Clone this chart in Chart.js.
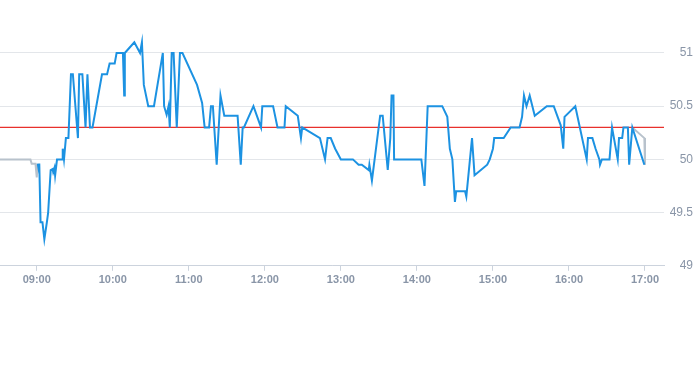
<!DOCTYPE html>
<html>
<head>
<meta charset="utf-8">
<script src="https://cdn.jsdelivr.net/npm/chart.js@4/dist/chart.umd.min.js"></script>
<style>
  html, body { margin: 0; padding: 0; background: #fff; }
  #wrap { width: 693px; height: 365px; }
</style>
</head>
<body>
<div id="wrap"><canvas id="priceChart"></canvas></div>
<script>
// Intraday price (blue)
const priceTimes = [
  "09:00:47", "09:01:30", "09:02:00", "09:03:00", "09:04:30", "09:06:00", "09:08:00", "09:09:00",
  "09:11:00", "09:12:30", "09:13:00", "09:14:00", "09:14:30", "09:16:00", "09:20:00", "09:20:30",
  "09:21:30", "09:23:00", "09:25:00", "09:27:00", "09:28:30", "09:32:30", "09:33:30", "09:36:00",
  "09:38:30", "09:40:00", "09:42:00", "09:44:00", "09:51:30", "09:55:30", "09:57:30", "10:01:30",
  "10:03:00", "10:08:00", "10:09:00", "10:09:30", "10:17:00", "10:21:30", "10:23:00", "10:24:30",
  "10:28:00", "10:32:30", "10:39:30", "10:40:30", "10:42:30", "10:44:00", "10:45:00", "10:46:30",
  "10:48:00", "10:50:30", "10:53:00", "10:55:00", "11:06:30", "11:10:30", "11:12:30", "11:16:00",
  "11:17:30", "11:19:00", "11:22:00", "11:25:00", "11:28:00", "11:38:30", "11:41:00", "11:42:30",
  "11:43:30", "11:51:00", "11:57:00", "11:58:00", "12:06:30", "12:10:00", "12:15:30", "12:16:30",
  "12:26:00", "12:28:30", "12:29:30", "12:43:30", "12:47:30", "12:49:30", "12:52:00", "12:55:30",
  "13:00:00", "13:09:30", "13:14:00", "13:16:30", "13:22:00", "13:22:30", "13:24:30", "13:31:00",
  "13:33:00", "13:37:00", "13:39:00", "13:39:30", "13:40:00", "13:41:30", "13:42:00", "14:03:30",
  "14:06:00", "14:08:30", "14:20:00", "14:24:00", "14:26:00", "14:28:00", "14:30:00", "14:31:00",
  "14:38:00", "14:39:00", "14:43:30", "14:45:30", "14:55:30", "14:57:30", "15:00:00", "15:01:00",
  "15:08:30", "15:14:00", "15:21:00", "15:23:00", "15:24:30", "15:26:30", "15:29:00", "15:33:00",
  "15:42:30", "15:48:00", "15:53:30", "15:55:30", "15:56:30", "16:05:00", "16:14:00", "16:15:00",
  "16:18:30", "16:21:00", "16:24:00", "16:24:30", "16:26:00", "16:32:00", "16:34:00", "16:38:30",
  "16:39:30", "16:42:00", "16:43:00", "16:46:30", "16:47:30", "16:50:00", "16:59:30"
];
const priceValues = [
  49.96, 49.91, 49.96, 49.41, 49.41, 49.25, 49.41, 49.5,
  49.9, 49.91, 49.88, 49.92, 49.85, 50.0, 50.0, 50.1,
  50.0, 50.2, 50.2, 50.8, 50.8, 50.2, 50.8, 50.8,
  50.3, 50.8, 50.3, 50.3, 50.8, 50.8, 50.9, 50.9,
  51.0, 51.0, 50.6, 51.0, 51.1, 51.0, 51.1, 50.7,
  50.5, 50.5, 51.0, 50.5, 50.42, 50.5, 50.3, 51.0,
  51.0, 50.3, 51.0, 51.0, 50.7, 50.53, 50.3, 50.3,
  50.5, 50.5, 49.95, 50.6, 50.41, 50.41, 49.95, 50.3,
  50.3, 50.5, 50.3, 50.5, 50.5, 50.3, 50.3, 50.5,
  50.41, 50.2, 50.3, 50.2, 50.0, 50.2, 50.2, 50.1,
  50.0, 50.0, 49.95, 49.95, 49.9, 49.95, 49.8, 50.41,
  50.41, 49.9, 50.2, 50.2, 50.6, 50.6, 50.0, 50.0,
  49.75, 50.5, 50.5, 50.4, 50.1, 50.0, 49.6, 49.7,
  49.7, 49.65, 50.2, 49.85, 49.95, 50.0, 50.1, 50.2,
  50.2, 50.3, 50.3, 50.4, 50.6, 50.5, 50.6, 50.41,
  50.5, 50.5, 50.32, 50.1, 50.4, 50.5, 50.0, 50.2,
  50.2, 50.1, 50.0, 49.95, 50.0, 50.0, 50.3, 50.0,
  50.2, 50.2, 50.3, 50.3, 49.95, 50.3, 49.95
];

// Grey series (pre-open and closing auction), null breaks the line
const auctionTimes = ["08:31:00", "08:55:00", "08:56:00", "08:59:00", "09:00:00", "09:00:47", "12:00:00", "16:50:00", "16:59:30", "17:00:00"];
const auctionValues = [50.0, 50.0, 49.96, 49.96, 49.83, 49.96, null, 50.3, 50.2, 49.95];

// Reference level (red)
const refLevel = 50.3;

// Axes
const xRange = ["08:31:00", "17:15:00"];
const hourTicks = ["09:00", "10:00", "11:00", "12:00", "13:00", "14:00", "15:00", "16:00", "17:00"];
const yTicks = [49, 49.5, 50, 50.5, 51];
const yMax = 51.43;

function toMin(s) {
  const p = s.split(":").map(Number);
  return p[0] * 60 + p[1] + (p[2] || 0) / 60;
}
function fmt(m) {
  const h = Math.floor(m / 60), mm = Math.round(m % 60);
  return String(h).padStart(2, "0") + ":" + String(mm).padStart(2, "0");
}
const pts = (times, vals) => times.map((t, i) => ({ x: toMin(t), y: vals[i] }));

const xMin = toMin(xRange[0]);
const xMax = toMin(xRange[1]);

const labelColor = "#8995a7";
const font = "'Liberation Sans', Arial, Helvetica, sans-serif";

new Chart(document.getElementById("priceChart"), {
  type: "line",
  data: {
    datasets: [
      {
        label: "Price",
        data: pts(priceTimes, priceValues),
        borderColor: "#1c92e2",
        borderWidth: 2,
        pointRadius: 0,
        tension: 0,
      },
      {
        label: "Reference",
        data: [{ x: xMin, y: refLevel }, { x: xMax, y: refLevel }],
        borderColor: "#e8312c",
        borderWidth: 1.2,
        pointRadius: 0,
      },
      {
        label: "Auction",
        data: pts(auctionTimes, auctionValues),
        borderColor: "#b8c2cc",
        borderWidth: 2,
        pointRadius: 0,
        spanGaps: false,
      },
    ],
  },
  options: {
    responsive: true,
    maintainAspectRatio: false,
    animation: false,
    layout: { padding: { left: 0, right: 0, top: 0, bottom: 75 } },
    plugins: {
      legend: { display: false },
      tooltip: { enabled: false },
    },
    scales: {
      x: {
        type: "linear",
        min: xMin,
        max: xMax,
        afterBuildTicks: (scale) => {
          scale.ticks = hourTicks.map((h) => ({ value: toMin(h) }));
        },
        grid: {
          drawOnChartArea: false,
          drawTicks: true,
          tickLength: 5,
          color: "#ccd3dd",
        },
        border: { color: "#ccd3dd" },
        ticks: {
          color: labelColor,
          padding: 3,
          maxRotation: 0,
          autoSkip: false,
          font: { family: font, size: 11, weight: "bold" },
          callback: (v) => fmt(v),
        },
      },
      y: {
        position: "right",
        min: yTicks[0],
        max: yMax,
        afterBuildTicks: (scale) => {
          scale.ticks = yTicks.map((v) => ({ value: v }));
        },
        afterFit: (scale) => {
          scale.width = 29;
        },
        grid: { color: "#e3e6ea", drawTicks: false },
        border: { display: false },
        ticks: {
          color: labelColor,
          padding: 0,
          crossAlign: "far",
          font: { family: font, size: 12 },
          callback: (v) => String(v),
        },
      },
    },
  },
});
</script>
</body>
</html>
